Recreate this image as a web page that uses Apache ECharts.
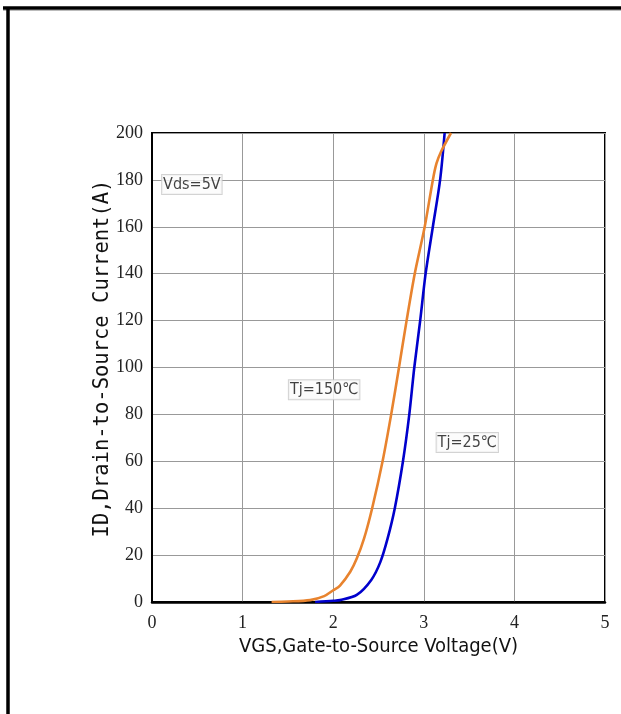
<!DOCTYPE html>
<html>
<head>
<meta charset="utf-8">
<script src="https://cdn.jsdelivr.net/npm/echarts@6/dist/echarts.min.js"></script>
<style>html,body{margin:0;padding:0;background:#fff;}#c{width:621px;height:714px;}</style>
</head>
<body>
<div id="c"></div>
<script>
// Tj = 25°C transfer curve (VGS in V, ID in A)
var vgs25 = [1.80, 2.00, 2.075, 2.26, 2.42, 2.52, 2.60, 2.68, 2.77, 2.84, 2.895, 2.96, 3.02, 3.10, 3.18, 3.23];
var id25  = [0,    0.5,  0.8,   3,    9.4,  17,   27,   40,   60,   80,   100,   120,  140,  160,  180,  200];
// Tj = 150°C transfer curve
var vgs150 = [1.32, 1.50, 1.745, 1.90, 2.00, 2.075, 2.19, 2.26, 2.34, 2.43, 2.545, 2.64, 2.726, 2.81, 2.90, 3.01, 3.10, 3.14, 3.19, 3.30];
var id150  = [0,    0.2,  0.8,   2.5,  5,    7,     13,   18.5, 27,   40,   60,    80,   100,   120,  140,  160,  180,  187,  192,  200];
// Axis ticks
var xTicks = [0, 1, 2, 3, 4, 5];
var yTicks = [0, 20, 40, 60, 80, 100, 120, 140, 160, 180, 200];
// Annotations
var notes = [
  {text: 'Vds=5V', at: [0.44, 178]},
  {text: 'Tj=150℃', at: [1.90, 90.5]},
  {text: 'Tj=25℃', at: [3.48, 68]}
];

function pairs(xs, ys){ return xs.map(function(x,i){ return [x, ys[i]]; }); }

var chart = echarts.init(document.getElementById('c'), null, {renderer:'canvas'});
var tickFont = {fontFamily:'Liberation Serif', fontSize:18, color:'#222'};
chart.setOption({
  animation:false,
  backgroundColor:'#fff',
  grid:{left:152, right:16, top:133, bottom:112, show:true, borderColor:'#000', borderWidth:2, backgroundColor:'transparent'},
  xAxis:{
    type:'value', min:xTicks[0], max:xTicks[xTicks.length-1], interval:1,
    name:'VGS,Gate-to-Source Voltage(V)', nameLocation:'middle', nameGap:35, nameMoveOverlap:false,
    nameTextStyle:{fontFamily:'Liberation Sans Narrow, DejaVu Sans Condensed, sans-serif', fontSize:20, color:'#111'},
    axisLine:{show:true, lineStyle:{color:'#000', width:2.5}},
    axisTick:{show:false},
    splitLine:{show:true, lineStyle:{color:'#999', width:1}},
    axisLabel:Object.assign({margin:12, formatter:function(v){return String(v);}}, tickFont)
  },
  yAxis:{
    type:'value', min:yTicks[0], max:yTicks[yTicks.length-1], interval:20,
    name:'ID,Drain-to-Source Current(A)', nameLocation:'middle', nameGap:39, nameRotate:90, nameMoveOverlap:false,
    nameTextStyle:{fontFamily:'DejaVu Sans Mono, monospace', fontSize:20.5, color:'#111', padding:[0,0,0,18]},
    axisLine:{show:true, lineStyle:{color:'#000', width:2}},
    axisTick:{show:false},
    splitLine:{show:true, lineStyle:{color:'#999', width:1}},
    axisLabel:Object.assign({margin:9}, tickFont)
  },
  series:[
    {type:'line', name:'Tj=25C', data:pairs(vgs25, id25), smooth:0.3, symbol:'none', z:3,
     lineStyle:{color:'#0000CC', width:2.6}},
    {type:'line', name:'Tj=150C', data:pairs(vgs150, id150), smooth:0.3, symbol:'none', z:4,
     lineStyle:{color:'#E8832E', width:2.6}},
    {type:'scatter', symbolSize:0, silent:true, z:10,
     data:notes.map(function(n){ return {value:n.at, name:n.text}; }),
     label:{show:true, position:'inside', formatter:function(p){return p.name;},
       fontFamily:'DejaVu Sans Condensed, sans-serif', fontSize:16, color:'#111',
       backgroundColor:'#fbfbfb', borderColor:'#c8c8c8', borderWidth:1, padding:[2,1,1,1]}}
  ],
  graphic:[
    {type:'line', shape:{x1:3, y1:8, x2:621, y2:8}, style:{stroke:'#000', lineWidth:3.5}, z:100},
    {type:'line', shape:{x1:3, y1:10.5, x2:621, y2:10.5}, style:{stroke:'#bbb', lineWidth:1}, z:99},
    {type:'line', shape:{x1:8, y1:9, x2:8, y2:714}, style:{stroke:'#000', lineWidth:3.5}, z:100}
  ]
});
</script>
</body>
</html>
